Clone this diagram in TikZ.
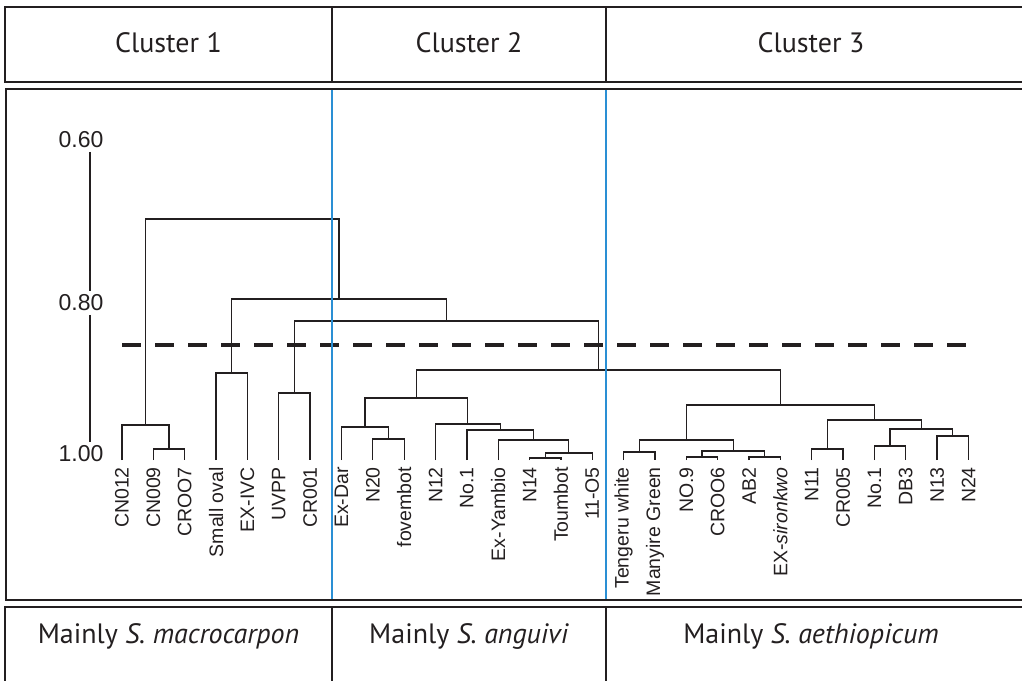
\documentclass[tikz,border=0pt]{standalone}
\usepackage{fontspec}
\setmainfont{PT Sans}
\newfontfamily\arialfont{Liberation Sans}

\definecolor{inkgray}{RGB}{35,31,32}
\definecolor{cutblue}{RGB}{42,143,212}

\begin{document}
\begin{tikzpicture}[x=1pt,y=-1pt,
		frame/.style={draw=inkgray,line width=2.2pt},
		head/.style={anchor=base,inner sep=0pt,text=inkgray,font=\fontsize{28}{32}\selectfont},
		leaf/.style={rotate=90,anchor=east,inner sep=0pt,text=inkgray,font=\arialfont\fontsize{19.5}{21}\selectfont},
		tick/.style={inner sep=3.5pt,text=inkgray,font=\arialfont\fontsize{23}{25}\selectfont},
		branch/.style={draw=inkgray,line width=1.3pt},
		cut/.style={draw=inkgray,line width=4pt,dash pattern=on 19pt off 14pt},
		sep/.style={draw=cutblue,line width=2pt}]
		\useasboundingbox (0,0) rectangle (1022,680);

		% leaves
		\foreach \i/\n/\t in {0/cn012/CN012, 1/cn009/CN009, 2/croo7/CROO7, 3/smalloval/Small oval,
			4/exivc/EX-IVC, 5/uvpp/UVPP, 6/cr001/CR001, 7/exdar/Ex-Dar, 8/n20/N20, 9/fovembot/fovembot,
			10/n12/N12, 11/noone/No.1, 12/exyambio/Ex-Yambio, 13/n14/N14, 14/toumbot/Toumbot, 15/o5/11-O5,
			16/tengeru/Tengeru white, 17/manyire/Manyire Green, 18/nonine/NO.9, 19/croo6/CROO6, 20/ab2/AB2,
			21/sironkwo/EX-\textit{sironkwo}, 22/n11/N11, 23/cr005/CR005, 24/nooneb/No.1, 25/db3/DB3,
			26/n13/N13, 27/n24/N24}
		{
			\coordinate (\n) at ({122+31.35*\i},460);
			\node[leaf] (t\n) at ({122+31.35*\i},467) {\t};
		}

		% joins
		\foreach \n/\x/\y in {a1/169/449, a2/145.5/425, a3/231.7/373, a4/294.4/393,
			b1/388.5/439, b2/365/427, b3/545.2/458, b4/568.7/453, b5/533.5/440, b6/500.2/430, b7/467.8/424, b8/416.4/398,
			d1/639.3/452, d2/702/457, d3/764.7/457, d4/733.3/451, d5/686.3/440, d6/827.4/449,
			d7/890.1/446, d8/952.8/436, d9/921.4/429, d10/874.4/420, d11/780.4/405,
			e1/598.4/370, e2/446.4/321, e3/339/299, e4/242.3/219}
			\coordinate (\n) at (\x,\y);

		\foreach \p/\l/\r in {a1/cn009/croo7, a2/cn012/a1, a3/smalloval/exivc, a4/uvpp/cr001,
			b1/n20/fovembot, b2/exdar/b1, b3/n14/toumbot, b4/b3/o5, b5/exyambio/b4, b6/noone/b5, b7/n12/b6, b8/b2/b7,
			d1/tengeru/manyire, d2/nonine/croo6, d3/ab2/sironkwo, d4/d2/d3, d5/d1/d4, d6/n11/cr005,
			d7/nooneb/db3, d8/n13/n24, d9/d7/d8, d10/d6/d9, d11/d5/d10,
			e1/b8/d11, e2/a4/e1, e3/a3/e2, e4/a2/e3}
			\draw[branch] (\l) |- (\p) -| (\r);

		% scale
		\node[tick] (l60) at (81,140) {0.60};
		\node[tick] (l80) at (81,303) {0.80};
		\node[tick] (l100) at (81,454) {1.00};
		\coordinate (ax) at (90,0);
		\draw[branch] (l60.south -| ax) -- (l80.north -| ax) (l80.south -| ax) -- (l100.north -| ax);

		\draw[cut] (cn012 |- 0,345) -- (n24 |- 0,345);

		\draw[sep] (332,90) -- (332,600);
		\draw[sep] (606,90) -- (606,600);

		% boxes
		\draw[frame] (5,7) rectangle (1040,82);
		\draw[frame] (332,7) -- (332,82) (606,7) -- (606,82);
		\draw[frame] (6,89) rectangle (1040,600);
		\draw[frame] (5,607) rectangle (1040,700);
		\draw[frame] (332,607) -- (332,700) (606,607) -- (606,700);

		\node[head] (clu1) at (168.5,52) {Cluster 1};
		\node[head] (clu2) at (469,52) {Cluster 2};
		\node[head] (clu3) at (811,52) {Cluster 3};
		\node[head] (sp1) at (168.5,643) {Mainly \textit{S. macrocarpon}};
		\node[head] (sp2) at (469,643) {Mainly \textit{S. anguivi}};
		\node[head] (sp3) at (811,643) {Mainly \textit{S. aethiopicum}};
	\end{tikzpicture}
\end{document}
